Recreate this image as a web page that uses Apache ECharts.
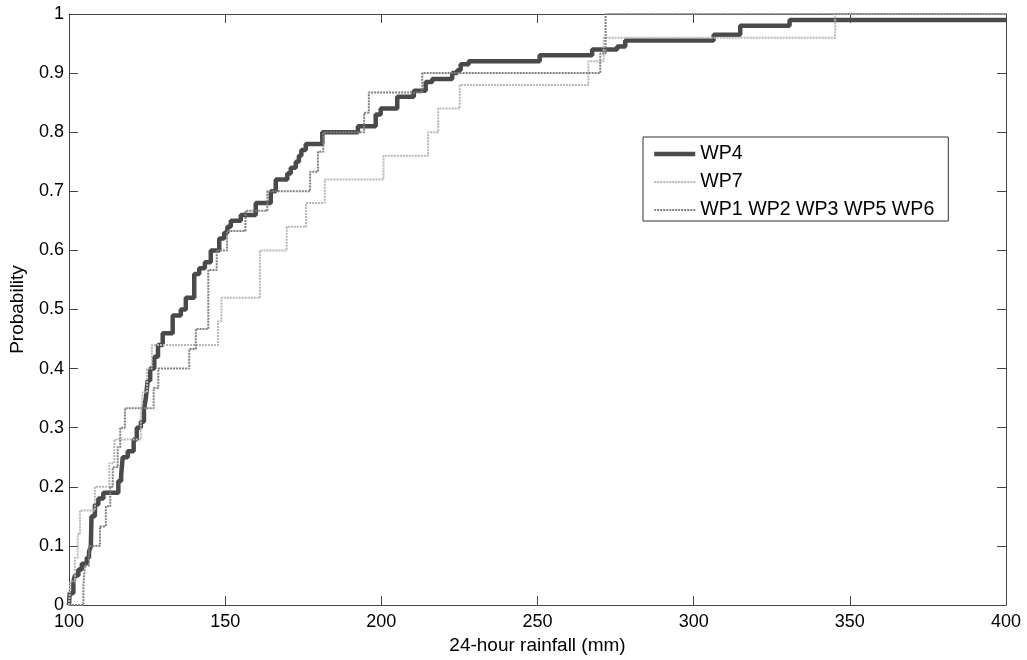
<!DOCTYPE html>
<html>
<head>
<meta charset="utf-8">
<script src="https://cdn.jsdelivr.net/npm/echarts@6/dist/echarts.min.js"></script>
<style>
html, body { margin: 0; padding: 0; background: #fff; }
#chart { width: 1027px; height: 660px; }
</style>
</head>
<body>
<div id="chart"></div>
<script>
// ticks
var xTicks = [100, 150, 200, 250, 300, 350, 400];
var yTicks = [0, 0.1, 0.2, 0.3, 0.4, 0.5, 0.6, 0.7, 0.8, 0.9, 1];
var seriesNames = ['WP4', 'WP7', 'WP1 WP2 WP3 WP5 WP6'];

// WP4 empirical cdf (rainfall mm / probability)
var wp4Rain = [100, 100.2, 101.4, 101.9, 103.0, 104.1, 105.7, 106.4, 107.0, 107.2, 108.3, 109.4, 111.0, 115.8, 116.7, 117.2, 118.8, 120.7, 121.7, 123.0,
    124.0, 124.6, 125.2, 126.0, 127.3, 128.5, 130.0, 133.2, 135.8, 137.4, 140.1, 141.7, 143.5, 145.4, 148.1, 149.7, 150.7, 151.8, 155.0, 159.8,
    164.6, 166.2, 169.9, 171.0, 172.6, 173.6, 174.4, 175.8, 181.1, 192.5, 198.2, 199.8, 205.1, 210.4, 214.2, 216.3, 222.7, 224.3, 225.4, 228.0,
    250.7, 267.5, 275.5, 278.1, 306.4, 314.9, 330.7, 400];
var wp4Prob = [0, 0.02, 0.04, 0.05, 0.06, 0.07, 0.08, 0.09, 0.10, 0.15, 0.17, 0.18, 0.19, 0.21, 0.22, 0.25, 0.26, 0.28, 0.30, 0.31,
    0.33, 0.35, 0.38, 0.40, 0.42, 0.44, 0.46, 0.49, 0.50, 0.52, 0.56, 0.57, 0.58, 0.60, 0.62, 0.63, 0.64, 0.65, 0.66, 0.68,
    0.70, 0.72, 0.73, 0.74, 0.75, 0.76, 0.77, 0.78, 0.80, 0.81, 0.83, 0.84, 0.86, 0.87, 0.885, 0.89, 0.90, 0.905, 0.915, 0.92,
    0.93, 0.94, 0.945, 0.955, 0.965, 0.98, 0.99, 0.99];

// WP7
var wp7Rain = [100, 100.4, 101.9, 102.8, 103.5, 108.3, 112.9, 114.5, 123.0, 123.6, 125.0, 126.5, 147.7, 148.8, 161.1, 169.7, 175.9, 181.9,
    200.7, 215.0, 218.2, 225.1, 266.3, 271.2, 345.3, 400];
var wp7Prob = [0, 0.04, 0.08, 0.12, 0.16, 0.20, 0.24, 0.28, 0.32, 0.36, 0.40, 0.44, 0.48, 0.52, 0.60, 0.64, 0.68, 0.72,
    0.76, 0.80, 0.84, 0.88, 0.92, 0.96, 1, 1];

// WP1 WP2 WP3 WP5 WP6
var wpOtherRain = [100, 104.6, 105.1, 106.4, 109.9, 111.8, 113.2, 114.0, 115.6, 116.4, 117.9, 127.1, 128.6, 138.5, 140.6, 144.6, 147.3,
    150.6, 156.5, 163.5, 177.2, 179.7, 181.4, 194.5, 196.0, 213.1, 270.1, 271.8, 400];
var wpOtherProb = [0, 0.033, 0.067, 0.1, 0.133, 0.167, 0.2, 0.233, 0.267, 0.3, 0.333, 0.367, 0.4, 0.433, 0.467, 0.567, 0.6,
    0.633, 0.667, 0.7, 0.733, 0.767, 0.8, 0.833, 0.867, 0.9, 0.933, 1, 1];

function toPairs(xs, ys) {
    var out = [];
    for (var i = 0; i < xs.length; i++) {
        out.push([xs[i], ys[i]]);
    }
    return out;
}

var font = 'Liberation Sans, Arial, sans-serif';
var frameColor = '#444';

var chart = echarts.init(document.getElementById('chart'), null, { renderer: 'canvas' });

function axisBase(extra) {
    var a = {
        axisLine: { show: true, onZero: false, lineStyle: { color: frameColor, width: 1 } },
        axisTick: { show: true, inside: true, length: 9, lineStyle: { color: frameColor } },
        splitLine: { show: false }
    };
    for (var k in extra) a[k] = extra[k];
    return a;
}

var option = {
    animation: false,
    backgroundColor: '#fff',
    textStyle: { fontFamily: font },
    grid: { left: 68, right: 21, top: 14, bottom: 54, containLabel: false },
    legend: {
        orient: 'vertical',
        left: 643,
        top: 137,
        data: seriesNames,
        itemWidth: 41,
        itemHeight: 14,
        itemGap: 8,
        padding: [7, 14, 1, 9],
        borderColor: '#333',
        borderWidth: 1,
        borderRadius: 0,
        backgroundColor: '#fff',
        itemStyle: { opacity: 0 },
        lineStyle: { width: 'inherit' },
        textStyle: { fontFamily: font, fontSize: 19.6, color: '#000', padding: [0, 0, 0, 0] }
    },
    xAxis: [
        axisBase({
            type: 'value', position: 'bottom',
            min: xTicks[0], max: xTicks[xTicks.length - 1], interval: 50,
            name: '24-hour rainfall (mm)', nameLocation: 'middle', nameGap: 31,
            nameTextStyle: { fontFamily: font, fontSize: 19, color: '#000' },
            axisLabel: { fontFamily: font, fontSize: 18, color: '#000', margin: 8 }
        }),
        axisBase({
            type: 'value', position: 'top',
            min: xTicks[0], max: xTicks[xTicks.length - 1], interval: 50,
            axisLabel: { show: false }
        })
    ],
    yAxis: [
        axisBase({
            type: 'value', position: 'left',
            min: yTicks[0], max: yTicks[yTicks.length - 1], interval: 0.1,
            name: 'Probability', nameLocation: 'middle', nameGap: 42,
            nameTextStyle: { fontFamily: font, fontSize: 19, color: '#000' },
            axisLabel: { fontFamily: font, fontSize: 18, color: '#000', margin: 5 }
        }),
        axisBase({
            type: 'value', position: 'right',
            min: yTicks[0], max: yTicks[yTicks.length - 1], interval: 0.1,
            axisLabel: { show: false }
        })
    ],
    series: [{
        name: seriesNames[0],
        type: 'line',
        step: 'end',
        symbol: 'none',
        data: toPairs(wp4Rain, wp4Prob),
        lineStyle: { color: '#4a4a4a', width: 4.5 },
        itemStyle: { color: '#4a4a4a' },
        z: 2
    }, {
        name: seriesNames[1],
        type: 'line',
        step: 'end',
        symbol: 'none',
        data: toPairs(wp7Rain, wp7Prob),
        lineStyle: { color: '#b8b8b8', width: 2, type: [2, 1] },
        itemStyle: { color: '#b8b8b8' },
        z: 3
    }, {
        name: seriesNames[2],
        type: 'line',
        step: 'end',
        symbol: 'none',
        data: toPairs(wpOtherRain, wpOtherProb),
        lineStyle: { color: '#808080', width: 2, type: [2, 1] },
        itemStyle: { color: '#808080' },
        z: 4
    }]
};

chart.setOption(option);
</script>
</body>
</html>
